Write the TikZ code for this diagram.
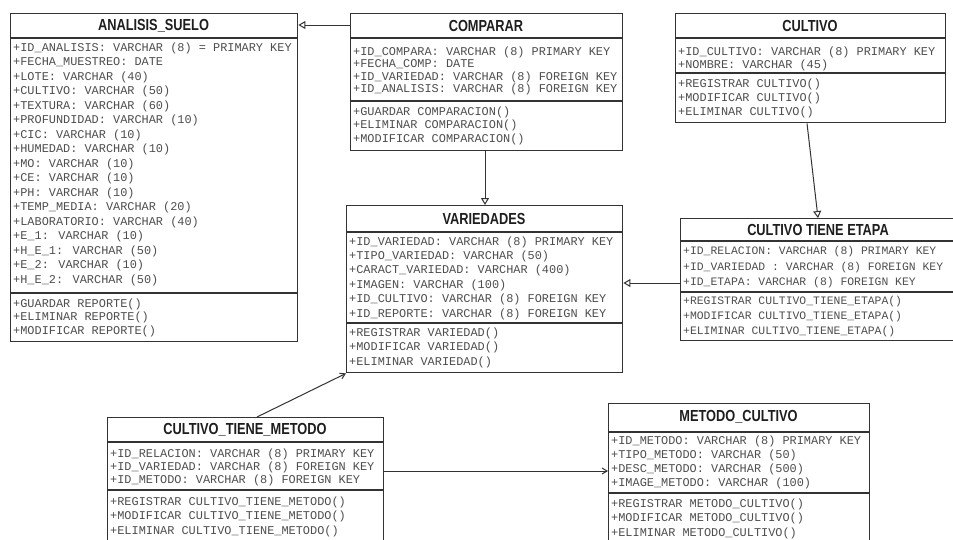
\documentclass[tikz,border=0pt]{standalone}
\usepackage{fontspec}
\setmainfont{Liberation Serif}
\newfontfamily\classtitlefont[FakeStretch=0.8]{Liberation Sans}
\newfontfamily\classrowfont{Liberation Mono}
\usetikzlibrary{arrows.meta}
\definecolor{edge}{HTML}{333333}
\definecolor{rowink}{HTML}{4E4E4E}
\definecolor{titleink}{HTML}{1E1E1E}

\tikzset{
  classbox/.style={draw=edge, line width=1.4pt, fill=white, rectangle, inner sep=0pt, anchor=north west},
  classname/.style={font={\classtitlefont\bfseries\fontsize{16}{16}\selectfont}, text=titleink, inner sep=0pt},
  row/.style={font={\classrowfont\fontsize{11.9}{12.5}\selectfont}, text=rowink, anchor=west, inner sep=0pt},
  narrowrow/.style={row, font={\classrowfont\fontsize{11.4}{12}\selectfont}},
  divider/.style={draw=edge, line width=1.4pt},
  inherit/.style={draw=edge, line width=1pt, -{Triangle[open, length=7pt, width=8pt]}},
  link/.style={draw=edge, line width=1pt, -{Straight Barb[length=5pt, width=6pt]}},
}

\begin{document}
\begin{tikzpicture}[x=1pt, y=-1pt]
\useasboundingbox (0,0) rectangle (953,539);
\clip (0,0) rectangle (953,539);
\fill[white] (0,0) rectangle (953,539);

% ---------------- ANALISIS_SUELO
\node[classbox, minimum width=287pt, minimum height=328pt] (suelo) at (10,13) {};
\node[classname] (suelo-t) at (153.5,25.5) {ANALISIS\_SUELO};
\draw[divider] (10,38) -- (297,38);
\foreach \txt [count=\i] in {
  {+ID\_ANALISIS: VARCHAR (8) = PRIMARY KEY},
  {+FECHA\_MUESTREO: DATE},
  {+LOTE: VARCHAR (40)},
  {+CULTIVO: VARCHAR (50)},
  {+TEXTURA: VARCHAR (60)},
  {+PROFUNDIDAD: VARCHAR (10)},
  {+CIC: VARCHAR (10)},
  {+HUMEDAD: VARCHAR (10)},
  {+MO: VARCHAR (10)},
  {+CE: VARCHAR (10)},
  {+PH: VARCHAR (10)},
  {+TEMP\_MEDIA: VARCHAR (20)},
  {+LABORATORIO: VARCHAR (40)},
  {+E\_1: VARCHAR (10)},
  {+H\_E\_1: VARCHAR (50)},
  {+E\_2: VARCHAR (10)},
  {+H\_E\_2: VARCHAR (50)}}
  \node[row] (suelo-a\i) at (13,{48+14.5*(\i-1)}) {\txt};
\draw[divider] (10,293) -- (297,293);
\foreach \txt [count=\i] in {
  {+GUARDAR REPORTE()},
  {+ELIMINAR REPORTE()},
  {+MODIFICAR REPORTE()}}
  \node[row] (suelo-m\i) at (13,{304+13.5*(\i-1)}) {\txt};

% ---------------- COMPARAR
\node[classbox, minimum width=272pt, minimum height=137pt] (compare) at (350,13) {};
\node[classname] (compare-t) at (486,25.5) {COMPARAR};
\draw[divider] (350,38) -- (622,38);
\foreach \txt [count=\i] in {
  {+ID\_COMPARA: VARCHAR (8) PRIMARY KEY},
  {+FECHA\_COMP: DATE},
  {+ID\_VARIEDAD: VARCHAR (8) FOREIGN KEY},
  {+ID\_ANALISIS: VARCHAR (8) FOREIGN KEY}}
  \node[row] (compare-a\i) at (353,{52+12.5*(\i-1)}) {\txt};
\draw[divider] (350,101) -- (622,101);
\foreach \txt [count=\i] in {
  {+GUARDAR COMPARACION()},
  {+ELIMINAR COMPARACION()},
  {+MODIFICAR COMPARACION()}}
  \node[row] (compare-m\i) at (353,{112+13.5*(\i-1)}) {\txt};

% ---------------- CULTIVO
\node[classbox, minimum width=270pt, minimum height=109pt] (cultivo) at (675,13) {};
\node[classname] (cultivo-t) at (810,25.5) {CULTIVO};
\draw[divider] (675,38) -- (945,38);
\foreach \txt [count=\i] in {
  {+ID\_CULTIVO: VARCHAR (8) PRIMARY KEY},
  {+NOMBRE: VARCHAR (45)}}
  \node[row] (cultivo-a\i) at (678,{52+13*(\i-1)}) {\txt};
\draw[divider] (675,73) -- (945,73);
\foreach \txt [count=\i] in {
  {+REGISTRAR CULTIVO()},
  {+MODIFICAR CULTIVO()},
  {+ELIMINAR CULTIVO()}}
  \node[row] (cultivo-m\i) at (678,{84+14*(\i-1)}) {\txt};

% ---------------- VARIEDADES
\node[classbox, minimum width=276pt, minimum height=167pt] (variedades) at (346,205) {};
\node[classname] (variedades-t) at (484,218.5) {VARIEDADES};
\draw[divider] (346,232) -- (622,232);
\foreach \txt [count=\i] in {
  {+ID\_VARIEDAD: VARCHAR (8) PRIMARY KEY},
  {+TIPO\_VARIEDAD: VARCHAR (50)},
  {+CARACT\_VARIEDAD: VARCHAR (400)},
  {+IMAGEN: VARCHAR (100)},
  {+ID\_CULTIVO: VARCHAR (8) FOREIGN KEY},
  {+ID\_REPORTE: VARCHAR (8) FOREIGN KEY}}
  \node[row] (variedades-a\i) at (349,{242+14.4*(\i-1)}) {\txt};
\draw[divider] (346,323) -- (622,323);
\foreach \txt [count=\i] in {
  {+REGISTRAR VARIEDAD()},
  {+MODIFICAR VARIEDAD()},
  {+ELIMINAR VARIEDAD()}}
  \node[row] (variedades-m\i) at (349,{333+14.5*(\i-1)}) {\txt};

% ---------------- CULTIVO TIENE ETAPA
\node[classbox, minimum width=276pt, minimum height=122pt] (etapa) at (680,218) {};
\node[classname] (etapa-t) at (818,229.5) {CULTIVO TIENE ETAPA};
\draw[divider] (680,241) -- (956,241);
\foreach \txt [count=\i] in {
  {+ID\_RELACION: VARCHAR (8) PRIMARY KEY},
  {+ID\_VARIEDAD : VARCHAR (8) FOREIGN KEY},
  {+ID\_ETAPA: VARCHAR (8) FOREIGN KEY}}
  \node[narrowrow] (etapa-a\i) at (683,{252+15.5*(\i-1)}) {\txt};
\draw[divider] (680,292) -- (956,292);
\foreach \txt [count=\i] in {
  {+REGISTRAR CULTIVO\_TIENE\_ETAPA()},
  {+MODIFICAR CULTIVO\_TIENE\_ETAPA()},
  {+ELIMINAR CULTIVO\_TIENE\_ETAPA()}}
  \node[narrowrow] (etapa-m\i) at (683,{302+15*(\i-1)}) {\txt};

% ---------------- CULTIVO_TIENE_METODO
\node[classbox, minimum width=276pt, minimum height=128pt] (tmetodo) at (107,417) {};
\node[classname] (tmetodo-t) at (245,429.5) {CULTIVO\_TIENE\_METODO};
\draw[divider] (107,442) -- (383,442);
\foreach \txt [count=\i] in {
  {+ID\_RELACION: VARCHAR (8) PRIMARY KEY},
  {+ID\_VARIEDAD: VARCHAR (8) FOREIGN KEY},
  {+ID\_METODO: VARCHAR (8) FOREIGN KEY}}
  \node[row] (tmetodo-a\i) at (110,{454+13*(\i-1)}) {\txt};
\draw[divider] (107,490) -- (383,490);
\foreach \txt [count=\i] in {
  {+REGISTRAR CULTIVO\_TIENE\_METODO()},
  {+MODIFICAR CULTIVO\_TIENE\_METODO()},
  {+ELIMINAR CULTIVO\_TIENE\_METODO()}}
  \node[row] (tmetodo-m\i) at (110,{502+14.5*(\i-1)}) {\txt};

% ---------------- METODO_CULTIVO
\node[classbox, minimum width=261pt, minimum height=142pt] (metodo) at (608,403) {};
\node[classname] (metodo-t) at (738.5,417) {METODO\_CULTIVO};
\draw[divider] (608,432) -- (869,432);
\foreach \txt [count=\i] in {
  {+ID\_METODO: VARCHAR (8) PRIMARY KEY},
  {+TIPO\_METODO: VARCHAR (50)},
  {+DESC\_METODO: VARCHAR (500)},
  {+IMAGE\_METODO: VARCHAR (100)}}
  \node[row] (metodo-a\i) at (611,{441+14*(\i-1)}) {\txt};
\draw[divider] (608,493) -- (869,493);
\foreach \txt [count=\i] in {
  {+REGISTRAR METODO\_CULTIVO()},
  {+MODIFICAR METODO\_CULTIVO()},
  {+ELIMINAR METODO\_CULTIVO()}}
  \node[row] (metodo-m\i) at (611,{504+14.5*(\i-1)}) {\txt};

% ---------------- connectors
\draw[inherit] (compare.west |- 0,25) -- (suelo.east |- 0,25);
\draw[inherit] (compare.south -| 485,0) -- (variedades.north -| 485,0);
\draw[inherit] (cultivo.south -| 807,0) -- (etapa.north -| 818,0);
\draw[inherit] (etapa.west |- 0,283) -- (variedades.east |- 0,283);
\draw[link] (tmetodo.north -| 257,0) -- (variedades.south west);
\draw[link] (tmetodo.east |- 0,471) -- (metodo.west |- 0,471);
\end{tikzpicture}
\end{document}
